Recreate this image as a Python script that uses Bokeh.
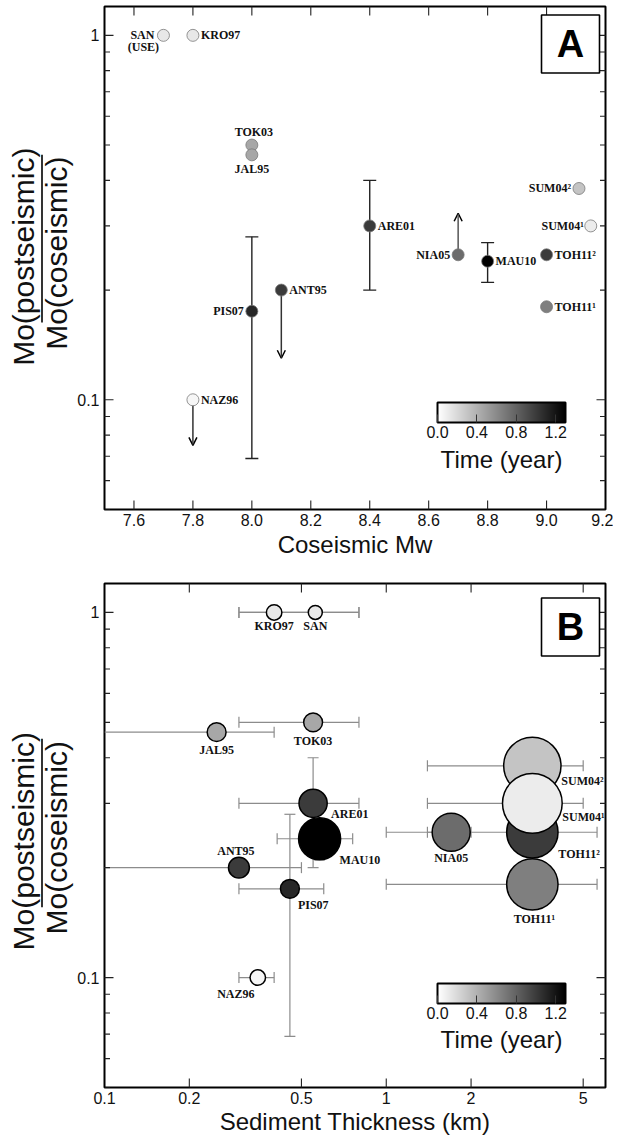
import math
from bokeh.plotting import figure
from bokeh.models import (ColumnDataSource, FixedTicker, Whisker, TeeHead,
                          Arrow, OpenHead, ColorBar, LinearColorMapper, Label, BoxAnnotation,
                          CustomJSTickFormatter, PrintfTickFormatter)
from bokeh.layouts import column, row
from bokeh.core.properties import value
from bokeh.transform import transform
from bokeh.embed import file_html
from bokeh.resources import INLINE

# ---------------- data ----------------
names = ["SAN", "KRO97", "TOK03", "JAL95", "ARE01", "ANT95", "PIS07", "NAZ96",
         "NIA05", "MAU10", "SUM04\u00b2", "TOH11\u00b2", "TOH11\u00b9", "SUM04\u00b9"]
mw = [7.70, 7.80, 8.00, 8.00, 8.40, 8.10, 8.00, 7.80, 8.70, 8.80, 9.11, 9.00, 9.00, 9.15]
ratio = [1.00, 1.00, 0.50, 0.47, 0.30, 0.20, 0.175, 0.10, 0.25, 0.24, 0.38, 0.25, 0.18, 0.30]
time_yr = [0.12, 0.12, 0.45, 0.45, 1.00, 1.00, 1.10, 0.05, 0.75, 1.30, 0.30, 1.00, 0.65, 0.10]
sed = [0.56, 0.40, 0.55, 0.25, 0.55, 0.30, 0.455, 0.35, 1.70, 0.58, 3.30, 3.30, 3.30, 3.30]
sed_lo = [0.30, 0.30, 0.30, 0.05, 0.30, 0.05, 0.30, 0.30, 1.40, 0.41, 1.40, 1.00, 1.00, 1.40]
sed_hi = [0.80, 0.80, 0.80, 0.40, 0.80, 0.50, 0.60, 0.40, 2.00, 0.76, 5.00, 5.60, 5.60, 5.00]

# vertical error bars on the ratio
err_names = ["PIS07", "ARE01", "MAU10"]
err_lo = [0.069, 0.20, 0.21]
err_hi = [0.28, 0.40, 0.27]

# bounds (arrows) on the ratio
lim_names = ["NAZ96", "ANT95", "NIA05"]
lim_to = [0.075, 0.13, 0.325]

mw_ticks = [7.6, 7.8, 8.0, 8.2, 8.4, 8.6, 8.8, 9.0, 9.2]
sed_ticks = [0.1, 0.2, 0.5, 1, 2, 5]
ratio_ticks = [0.1, 1]
ratio_minor = [0.05, 0.06, 0.07, 0.08, 0.09, 0.2, 0.3, 0.4, 0.5, 0.6, 0.7, 0.8, 0.9]
time_ticks = [0.0, 0.4, 0.8, 1.2]

MW_RANGE = (7.5, 9.2)
SED_RANGE = (0.1, 6.0)
RATIO_RANGE = (0.05, 1.2)

# ---------------- styling ----------------
SANS = "Liberation Sans"
SERIF = "Liberation Serif"
INK = "#111111"
GRAY = ["#%02x%02x%02x" % (v, v, v) for v in range(255, -1, -1)]
mapper = LinearColorMapper(palette=GRAY, low=0.0, high=1.3)
TW = 74  # width of the strip holding the y title

idx = {n: i for i, n in enumerate(names)}


def label_axis(ax, ticks, fmt, standoff):
    ax.ticker = FixedTicker(ticks=ticks)
    ax.formatter = fmt
    ax.axis_line_color = None
    ax.major_tick_line_color = None
    ax.minor_tick_line_color = None
    ax.major_tick_in = 0
    ax.major_tick_out = 0
    ax.minor_tick_in = 0
    ax.minor_tick_out = 0
    ax.major_label_text_font = SANS
    ax.major_label_text_font_size = "16px"
    ax.major_label_text_color = INK
    ax.major_label_standoff = standoff
    ax.axis_label_text_font = SANS
    ax.axis_label_text_font_size = "24px"
    ax.axis_label_text_font_style = "normal"
    ax.axis_label_text_color = INK


def title_strip(height, frame_top):
    t = figure(width=TW, height=height, x_range=(0, TW), y_range=(height, 0),
               x_axis_location=None, y_axis_location=None, toolbar_location=None,
               output_backend="svg", min_border=0)
    t.outline_line_color = None
    t.xgrid.visible = False
    t.ygrid.visible = False
    common = dict(angle=math.pi / 2, text_align="center", text_baseline="middle",
                  text_font=SANS, text_font_size="30px", text_color=INK)
    t.add_layout(Label(x=22.6, y=frame_top + 277.5, text="Mo(postseismic)", **common))
    t.add_layout(Label(x=56.4, y=frame_top + 273.5, text="Mo(coseismic)", **common))
    t.segment(x0=[41.5], y0=[frame_top + 162], x1=[41.5], y1=[frame_top + 352],
              line_color="black", line_width=1.6)
    return t


def frame_ticks(p, xr, yr, xt, yt, ymin):
    kw = dict(marker="dash", line_color="#222222", line_width=1.1, fill_color=None)
    xt_in = [t for t in xt if xr[0] < t < xr[1]]
    # bottom and top ticks (half of each dash falls outside the frame and is clipped)
    p.scatter(x=xt_in, y=[yr[0]] * len(xt_in), size=18, angle=math.pi / 2, **kw)
    p.scatter(x=xt_in, y=[yr[1]] * len(xt_in), size=18, angle=math.pi / 2, **kw)
    for xe in xr:
        p.scatter(x=[xe] * len(yt), y=yt, size=18, **kw)
        p.scatter(x=[xe] * len(ymin), y=ymin, size=11, **kw)


def panel_box(p, letter, top, bottom):
    p.add_layout(BoxAnnotation(left=437, right=495, bottom=bottom, top=top,
                               left_units="screen", right_units="screen",
                               bottom_units="screen", top_units="screen",
                               fill_color="white", fill_alpha=1,
                               line_color="black", line_alpha=1, line_width=1.6))
    p.add_layout(Label(x=466, y=(top + bottom) / 2, x_units="screen", y_units="screen",
                       text=letter, text_align="center", text_baseline="middle",
                       text_font=SANS, text_font_style="bold", text_font_size="38px",
                       text_color="black"))


def colorbar(p, ybox, ytitle):
    cb = ColorBar(color_mapper=mapper, orientation="horizontal", location=(333, ybox),
                  width=128, height=20, padding=0, margin=0,
                  ticker=FixedTicker(ticks=time_ticks),
                  formatter=PrintfTickFormatter(format="%.1f"),
                  major_label_text_font=SANS, major_label_text_font_size="16px",
                  major_label_text_color=INK, label_standoff=3,
                  major_tick_in=8, major_tick_out=0, major_tick_line_color="#333333",
                  minor_tick_line_color=None, bar_line_color="black", bar_line_width=2,
                  border_line_color=None, background_fill_color=None)
    p.add_layout(cb, "center")
    p.add_layout(Label(x=397, y=ytitle, x_units="screen", y_units="screen",
                       text="Time (year)", text_align="center", text_baseline="middle",
                       text_font=SANS, text_font_size="24px", text_color=INK))


def texts(p, xs, ys, offs, font_size="12px"):
    groups = {}
    for n in names:
        dx, dy, al = offs[n]
        g = groups.setdefault(al, dict(x=[], y=[], t=[], dx=[], dy=[]))
        i = idx[n]
        g["x"].append(xs[i]); g["y"].append(ys[i]); g["t"].append(n)
        g["dx"].append(dx); g["dy"].append(dy)
    for al, g in groups.items():
        p.text(x="x", y="y", text="t", x_offset="dx", y_offset="dy",
               source=ColumnDataSource(g), text_align=al, text_baseline="middle",
               text_font=value(SERIF), text_font_style="bold",
               text_font_size=font_size, text_color=INK)


num_fmt = CustomJSTickFormatter(code="return String(tick)")

# ---------------- Panel A ----------------
HA, TOP_A, HA_FRAME = 570, 6, 503
pA = figure(width=613 - TW, height=HA, x_range=MW_RANGE, y_range=RATIO_RANGE,
            y_axis_type="log", output_backend="svg", toolbar_location=None,
            min_border_left=101 - TW, min_border_right=8, min_border_top=TOP_A,
            min_border_bottom=HA - TOP_A - HA_FRAME)
pA.outline_line_color = "black"
pA.outline_line_width = 2
pA.xgrid.visible = False
pA.ygrid.visible = False
label_axis(pA.xaxis[0], mw_ticks, PrintfTickFormatter(format="%.1f"), 4)
pA.xaxis[0].axis_label = "Coseismic Mw"
pA.xaxis[0].axis_label_standoff = 2
label_axis(pA.yaxis[0], ratio_ticks, num_fmt, 5)
frame_ticks(pA, MW_RANGE, RATIO_RANGE, mw_ticks, ratio_ticks, ratio_minor)

errA = ColumnDataSource(dict(base=[mw[idx[n]] for n in err_names], lo=err_lo, hi=err_hi))
pA.add_layout(Whisker(source=errA, base="base", lower="lo", upper="hi", dimension="height",
                      line_color="#222222", line_width=1.4, level="underlay",
                      upper_head=TeeHead(size=13, line_color="#222222", line_width=1.4),
                      lower_head=TeeHead(size=13, line_color="#222222", line_width=1.4)))
for n, t in zip(lim_names, lim_to):
    i = idx[n]
    pA.add_layout(Arrow(x_start=mw[i], y_start=ratio[i], x_end=mw[i], y_end=t,
                        line_color="#333333" if n != "NIA05" else "#555555", line_width=1.5,
                        end=OpenHead(size=8, line_color="black", line_width=1.5),
                        level="underlay"))

srcA = ColumnDataSource(dict(x=mw, y=ratio, time=time_yr))
pA.scatter("x", "y", source=srcA, marker="circle", size=12,
           fill_color=transform("time", mapper), line_color="#7a7a7a", line_width=0.8)

offA = {
    "SAN": (-9, 0, "right"), "KRO97": (8, 0, "left"), "TOK03": (2, -13, "center"),
    "JAL95": (0, 14, "center"), "ARE01": (8, 0, "left"), "ANT95": (8, 0, "left"),
    "PIS07": (-8, 0, "right"), "NAZ96": (8, 0, "left"), "NIA05": (-8, 0, "right"),
    "MAU10": (8, 0, "left"), "SUM04\u00b2": (-8, 0, "right"), "SUM04\u00b9": (-7, 0, "right"),
    "TOH11\u00b2": (8, 0, "left"), "TOH11\u00b9": (8, 0, "left"),
}
texts(pA, mw, ratio, offA)
pA.text(x=[mw[idx["SAN"]]], y=[ratio[idx["SAN"]]], text=["(USE)"], x_offset=-20, y_offset=12,
        text_align="center", text_baseline="middle", text_font=value(SERIF),
        text_font_style="bold", text_font_size="12px", text_color=INK)

panel_box(pA, "A", HA_FRAME - 8.5, HA_FRAME - 66.5)
colorbar(pA, 69, 50)

# ---------------- Panel B ----------------
HB, TOP_B, HB_FRAME = 568, 13, 504
pB = figure(width=613 - TW, height=HB, x_range=SED_RANGE, y_range=RATIO_RANGE,
            x_axis_type="log", y_axis_type="log", output_backend="svg", toolbar_location=None,
            min_border_left=101 - TW, min_border_right=8, min_border_top=TOP_B,
            min_border_bottom=HB - TOP_B - HB_FRAME)
pB.outline_line_color = "black"
pB.outline_line_width = 2
pB.xgrid.visible = False
pB.ygrid.visible = False
label_axis(pB.xaxis[0], sed_ticks, num_fmt, 4)
pB.xaxis[0].axis_label = "Sediment Thickness (km)"
pB.xaxis[0].axis_label_standoff = 1
label_axis(pB.yaxis[0], ratio_ticks, num_fmt, 5)
frame_ticks(pB, SED_RANGE, RATIO_RANGE, sed_ticks, ratio_ticks, ratio_minor)

x_left = SED_RANGE[0]
full = [i for i in range(len(names)) if sed_lo[i] >= x_left]
cut = [i for i in range(len(names)) if sed_lo[i] < x_left]
GR = "#8c8c8c"
pB.add_layout(Whisker(source=ColumnDataSource(dict(base=[ratio[i] for i in full],
                                                   lo=[sed_lo[i] for i in full],
                                                   hi=[sed_hi[i] for i in full])),
                      base="base", lower="lo", upper="hi", dimension="width",
                      line_color=GR, line_width=1.2, level="underlay",
                      upper_head=TeeHead(size=11, line_color=GR, line_width=1.2),
                      lower_head=TeeHead(size=11, line_color=GR, line_width=1.2)))
pB.add_layout(Whisker(source=ColumnDataSource(dict(base=[ratio[i] for i in cut],
                                                   lo=[x_left for i in cut],
                                                   hi=[sed_hi[i] for i in cut])),
                      base="base", lower="lo", upper="hi", dimension="width",
                      line_color=GR, line_width=1.2, level="underlay", lower_head=None,
                      upper_head=TeeHead(size=11, line_color=GR, line_width=1.2)))
pB.add_layout(Whisker(source=ColumnDataSource(dict(base=[sed[idx[n]] for n in err_names],
                                                   lo=err_lo, hi=err_hi)),
                      base="base", lower="lo", upper="hi", dimension="height",
                      line_color=GR, line_width=1.2, level="underlay",
                      upper_head=TeeHead(size=11, line_color=GR, line_width=1.2),
                      lower_head=TeeHead(size=11, line_color=GR, line_width=1.2)))

srcB = ColumnDataSource(dict(x=sed, y=ratio, time=time_yr,
                             d=[14 * math.exp(m - 7.7) for m in mw]))
pB.scatter("x", "y", source=srcB, marker="circle", size="d",
           fill_color=transform("time", mapper), line_color="black", line_width=1.5)

offB = {
    "SAN": (0, 14, "center"), "KRO97": (0, 14, "center"), "TOK03": (0, 19, "center"),
    "JAL95": (0, 18, "center"), "ARE01": (18, 11, "left"), "ANT95": (-3, -17, "center"),
    "PIS07": (8, 16, "left"), "NAZ96": (-22, 16, "center"), "NIA05": (0, 26, "center"),
    "MAU10": (20, 21, "left"), "SUM04\u00b2": (29, 15, "left"), "SUM04\u00b9": (30, 14, "left"),
    "TOH11\u00b2": (26, 22, "left"), "TOH11\u00b9": (2, 35, "center"),
}
texts(pB, sed, ratio, offB)

panel_box(pB, "B", HB_FRAME - 14.5, HB_FRAME - 72.5)
colorbar(pB, 66, 48.5)

layout = column(row(title_strip(HA, TOP_A), pA), row(title_strip(HB, TOP_B), pB))
open("out.html", "w").write(file_html(layout, INLINE))
